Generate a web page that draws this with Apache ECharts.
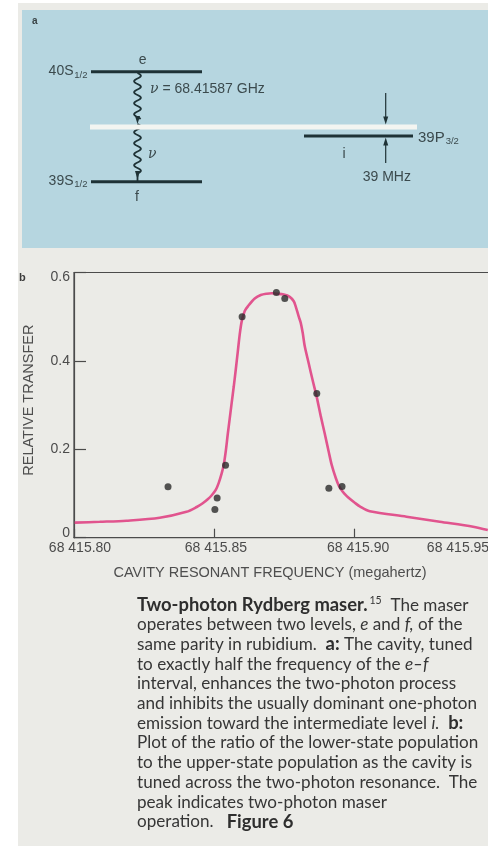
<!DOCTYPE html>
<html>
<head>
<meta charset="utf-8">
<script src="https://cdn.jsdelivr.net/npm/echarts@6/dist/echarts.min.js"></script>
<style>
  html, body { margin: 0; padding: 0; background: #ffffff; }
  #chart { width: 488px; height: 846px; }
</style>
</head>
<body>
<div id="chart"></div>
<script>
// Measured relative transfer vs. cavity frequency (MHz)
const pointFreq = [68415.8335, 68415.8502, 68415.8510, 68415.8540, 68415.8599,
                   68415.8721, 68415.8751, 68415.8865, 68415.8908, 68415.8955];
const pointTransfer = [0.115, 0.064, 0.090, 0.164, 0.500, 0.555, 0.541, 0.326, 0.112, 0.116];

// Theoretical resonance curve
const curveFreq = [
  68415.80025, 68415.80916, 68415.81867, 68415.83054, 68415.84006, 68415.84373, 68415.84587,
  68415.84765, 68415.84907, 68415.85050, 68415.85157, 68415.85264, 68415.85335, 68415.85406,
  68415.85478, 68415.85549, 68415.85620, 68415.85692, 68415.85763, 68415.85834, 68415.85905,
  68415.85977, 68415.86084, 68415.86201, 68415.86440, 68415.86654, 68415.86867, 68415.87046,
  68415.87224, 68415.87473, 68415.87687, 68415.87830, 68415.87901, 68415.88008, 68415.88079,
  68415.88150, 68415.88222, 68415.88364, 68415.88507, 68415.88649, 68415.88792, 68415.88935,
  68415.89077, 68415.89184, 68415.89327, 68415.89434, 68415.89576, 68415.89719, 68415.89826,
  68415.90004, 68415.90182, 68415.90538, 68415.91846, 68415.93033, 68415.94220, 68415.94743
];
const curveTransfer = [
  0.034, 0.036, 0.0385, 0.0450, 0.0585, 0.0695, 0.078,
  0.087, 0.096, 0.108, 0.124, 0.146, 0.165, 0.195,
  0.234, 0.270, 0.306, 0.342, 0.380, 0.420, 0.460,
  0.490, 0.513, 0.524, 0.541, 0.549, 0.552, 0.553,
  0.552, 0.550, 0.545, 0.535, 0.523, 0.500, 0.486,
  0.463, 0.433, 0.394, 0.355, 0.318, 0.275, 0.235,
  0.194, 0.164, 0.135, 0.118, 0.104, 0.094, 0.088,
  0.079, 0.071, 0.060, 0.0476, 0.0362, 0.0249, 0.0174
];

// Axis ticks
const xTicks = [68415.80, 68415.85, 68415.90, 68415.95];
const yTicks = [0, 0.2, 0.4, 0.6];

// Caption lines (rich text)
const captionLines = [
  '{b|Two-photon Rydberg maser.}{sup|15}  The maser',
  'operates between two levels, {i|e} and {i|f,} of the',
  'same parity in rubidium.  {b|a:} The cavity, tuned',
  'to exactly half the frequency of the {i|e\u2013f}',
  'interval, enhances the two-photon process',
  'and inhibits the usually dominant one-photon',
  'emission toward the intermediate level {i|i.}  {b|b:}',
  'Plot of the ratio of the lower-state population',
  'to the upper-state population as the cavity is',
  'tuned across the two-photon resonance.  The',
  'peak indicates two-photon maser',
  'operation.   {b|Figure 6}'
];

// The chart stores numbers in single precision, so frequencies are
// plotted relative to this offset and the offset is added back in labels.
const BASE = 68415;

const AX = '#4b4b4b';
const SANS = '"Liberation Sans", Arial, sans-serif';
const DIAG = '#3b4a4d';
const LEVEL = '#1e3236';

// label nudges so tick labels sit where they are typeset
const xLabelPad = [[0, 0, 0, 12], [0, 0, 0, 3], [0, 0, 0, 7], [0, 74, 0, 0]];
const yLabelPad = [[0, 0, 10, 0], [0, 0, 0, 0], [0, 0, 0, 0], [10, 0, 0, 0]];

function tickIndex(list, v, off) {
  for (let i = 0; i < list.length; i++) if (Math.abs(list[i] - off - v) < 1e-6) return i;
  return -1;
}
function fmtFreq(v) {
  const s = v.toFixed(2);
  return s.slice(0, 2) + ' ' + s.slice(2);
}
function richSet(pads) {
  const r = {};
  pads.forEach((p, i) => { r['t' + i] = { padding: p, fontSize: 14, fontFamily: SANS, color: AX }; });
  return r;
}

const measureCtx = document.createElement('canvas').getContext('2d');
function textWidth(text, size) {
  measureCtx.font = size + 'px "Liberation Sans"';
  return measureCtx.measureText(text).width;
}

// wavy photon line for the level diagram
function wave(x0, y0, y1, amp, period) {
  const pts = [];
  for (let y = y0; y <= y1 + 0.01; y += 0.5) {
    pts.push([x0 + amp * Math.sin((y - y0) / period * 2 * Math.PI), y]);
  }
  return pts;
}
function arrowDown(x, tipY, w, h, color) {
  return { type: 'polygon', shape: { points: [[x - w / 2, tipY - h], [x + w / 2, tipY - h], [x, tipY]] }, style: { fill: color } };
}
function arrowUp(x, tipY, w, h, color) {
  return { type: 'polygon', shape: { points: [[x - w / 2, tipY + h], [x + w / 2, tipY + h], [x, tipY]] }, style: { fill: color } };
}
function txt(x, y, text, size, opts) {
  opts = opts || {};
  return {
    type: 'text', x: x, y: y,
    style: {
      text: text,
      fontSize: size,
      fontFamily: opts.family || SANS,
      fontStyle: opts.italic ? 'italic' : 'normal',
      fontWeight: opts.bold ? 'bold' : 'normal',
      fill: opts.color || DIAG,
      align: opts.align || 'left',
      verticalAlign: 'middle'
    }
  };
}

const graphics = [];
// page and diagram panel backgrounds
graphics.push({ type: 'rect', z: -100, shape: { x: 18, y: 3, width: 470, height: 843 }, style: { fill: '#ebebe7' } });
graphics.push({ type: 'rect', z: -99, shape: { x: 22, y: 10, width: 466, height: 238 }, style: { fill: '#b6d6e0' } });

// panel a: energy level diagram
graphics.push(txt(32, 21, 'a', 10, { bold: true, color: '#3a4446' }));
graphics.push({ type: 'polyline', shape: { points: wave(137.5, 73, 119, 3.4, 11) }, style: { stroke: LEVEL, lineWidth: 1.8, fill: null } });
graphics.push({ type: 'polyline', shape: { points: wave(137.5, 124, 173, 3.4, 11) }, style: { stroke: LEVEL, lineWidth: 1.8, fill: null } });
graphics.push({ type: 'line', shape: { x1: 137.5, y1: 173, x2: 137.5, y2: 181 }, style: { stroke: LEVEL, lineWidth: 1.8 } });
graphics.push(arrowDown(137.5, 124, 5, 8, LEVEL));
graphics.push(arrowDown(137.5, 179, 5, 8, LEVEL));
graphics.push({ type: 'rect', shape: { x: 90, y: 124.5, width: 327, height: 5 }, style: { fill: '#f3f5f1' } });
graphics.push({ type: 'line', shape: { x1: 91, y1: 71.7, x2: 202, y2: 71.7 }, style: { stroke: LEVEL, lineWidth: 3 } });
graphics.push({ type: 'line', shape: { x1: 91, y1: 181.7, x2: 202, y2: 181.7 }, style: { stroke: LEVEL, lineWidth: 3 } });
graphics.push({ type: 'line', shape: { x1: 304, y1: 136, x2: 413, y2: 136 }, style: { stroke: LEVEL, lineWidth: 3 } });
graphics.push({ type: 'line', shape: { x1: 385.7, y1: 93, x2: 385.7, y2: 118 }, style: { stroke: LEVEL, lineWidth: 1.2 } });
graphics.push(arrowDown(385.7, 124.5, 5, 8, LEVEL));
graphics.push({ type: 'line', shape: { x1: 385.7, y1: 163, x2: 385.7, y2: 143 }, style: { stroke: LEVEL, lineWidth: 1.2 } });
graphics.push(arrowUp(385.7, 137.5, 5, 8, LEVEL));

graphics.push(txt(73.5, 71.5, '40S', 14, { align: 'right' }));
graphics.push(txt(74.3, 75.5, '1/2', 9.5));
graphics.push(txt(73.5, 181, '39S', 14, { align: 'right' }));
graphics.push(txt(74.3, 184.5, '1/2', 9.5));
graphics.push(txt(418, 138, '39P', 15));
graphics.push(txt(418 + textWidth('39P', 15) + 1, 141, '3/2', 9.5));
graphics.push(txt(142.7, 60, 'e', 14, { align: 'center' }));
graphics.push(txt(137, 197, 'f', 14, { align: 'center' }));
graphics.push(txt(344, 154, 'i', 14, { align: 'center' }));
graphics.push(txt(148, 154, '\u03bd', 14, { italic: true, family: '"DejaVu Serif", serif' }));
graphics.push({
  type: 'text', x: 150, y: 89.5,
  style: {
    text: '{n|\u03bd} = 68.41587 GHz',
    fontSize: 14, fontFamily: SANS, fill: DIAG, verticalAlign: 'middle',
    rich: { n: { fontSize: 14, fontStyle: 'italic', fontFamily: '"DejaVu Serif", serif', fill: DIAG } }
  }
});
graphics.push(txt(362.7, 177, '39 MHz', 14));

// panel b label
graphics.push(txt(19, 278, 'b', 11, { bold: true, color: '#3c3c3c' }));

// caption
const CAP = '"Lato", "Open Sans", sans-serif';
const CAP_SIZE = 17.1;
captionLines.forEach((line, i) => {
  graphics.push({
    type: 'text', x: 137, y: 605 + i * 19.7,
    style: {
      text: line, fontSize: CAP_SIZE, fontFamily: CAP, fill: '#363636', verticalAlign: 'middle',
      rich: {
        b: { fontSize: 18.4, fontFamily: CAP, fontWeight: 'bold', fill: '#2e2e2e' },
        i: { fontSize: CAP_SIZE, fontFamily: CAP, fontStyle: 'italic', fill: '#363636' },
        sup: { fontSize: 10.5, fontFamily: CAP, fill: '#363636', verticalAlign: 'top', padding: [0, 0, 8, 2] }
      }
    }
  });
});

const chart = echarts.init(document.getElementById('chart'), null, { renderer: 'canvas', width: 488, height: 846 });

chart.setOption({
  animation: false,
  backgroundColor: 'transparent',
  graphic: { elements: graphics },
  grid: {
    left: 74, top: 272.5, width: 421, height: 265.2,
    containLabel: false, outerBoundsMode: 'none',
    show: true, borderColor: AX, borderWidth: 1.2, backgroundColor: 'transparent'
  },
  xAxis: {
    type: 'value',
    min: +(xTicks[0] - BASE).toFixed(2),
    max: +(xTicks[xTicks.length - 1] - BASE).toFixed(2),
    interval: 0.05,
    name: 'CAVITY RESONANT FREQUENCY (megahertz)',
    nameLocation: 'middle', nameGap: 28,
    nameTextStyle: { fontSize: 14.5, fontFamily: SANS, color: '#4e4e4e', padding: [0, 29, 0, 0] },
    axisLine: { show: true, lineStyle: { color: AX, width: 1.2 } },
    axisTick: { show: true, inside: true, length: 9, lineStyle: { color: AX, width: 1.2 } },
    splitLine: { show: false },
    axisLabel: {
      margin: 3, showMinLabel: true, showMaxLabel: true,
      formatter: v => {
        const i = tickIndex(xTicks, v, BASE);
        return i < 0 ? '' : '{t' + i + '|' + fmtFreq(xTicks[i]) + '}';
      },
      rich: richSet(xLabelPad)
    }
  },
  yAxis: {
    type: 'value',
    min: yTicks[0], max: yTicks[yTicks.length - 1], interval: 0.2,
    name: 'RELATIVE TRANSFER',
    nameLocation: 'middle', nameGap: 38, nameRotate: 90,
    nameTextStyle: { fontSize: 14.5, fontFamily: SANS, color: '#4e4e4e', padding: [0, 0, 0, 10] },
    axisLine: { show: true, lineStyle: { color: AX, width: 1.2 } },
    axisTick: { show: true, inside: true, length: 12, lineStyle: { color: AX, width: 1.2 } },
    splitLine: { show: false },
    axisLabel: {
      margin: 4, showMinLabel: true, showMaxLabel: true,
      formatter: v => {
        const i = tickIndex(yTicks, v, 0);
        const s = v === 0 ? '0' : v.toFixed(1);
        return i < 0 ? '' : '{t' + i + '|' + s + '}';
      },
      rich: richSet(yLabelPad)
    }
  },
  series: [
    {
      type: 'line',
      data: curveFreq.map((f, i) => [f - BASE, curveTransfer[i]]),
      showSymbol: false,
      smooth: 0.3,
      lineStyle: { color: '#e1548e', width: 2.6 },
      z: 2
    },
    {
      type: 'scatter',
      data: pointFreq.map((f, i) => [f - BASE, pointTransfer[i]]),
      symbol: 'circle',
      symbolSize: 7,
      itemStyle: { color: '#2a2a2a' },
      z: 3
    }
  ]
});
</script>
</body>
</html>
